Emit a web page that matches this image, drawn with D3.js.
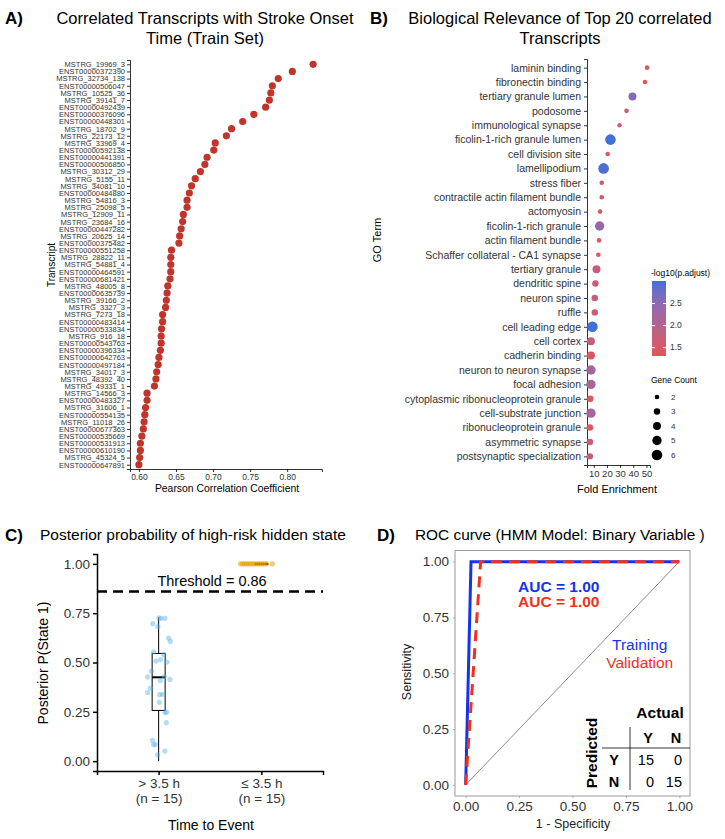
<!DOCTYPE html>
<html>
<head>
<meta charset="utf-8">
<script src="https://cdn.jsdelivr.net/npm/d3@7"></script>
<style>
body { margin: 0; background: #fff; }
svg text { font-family: "Liberation Sans", Arial, Helvetica, sans-serif; }
</style>
</head>
<body>
<div id="chart"></div>
<script>
/* Panel A: transcripts ordered top to bottom with their Pearson r */
var transcripts = [
    "MSTRG_19969_3", "ENST00000372390", "MSTRG_32734_138", "ENST00000506047", "MSTRG_10525_36",
    "MSTRG_39141_7", "ENST00000492439", "ENST00000376096", "ENST00000448301", "MSTRG_18702_9",
    "MSTRG_22173_12", "MSTRG_33969_4", "ENST00000592138", "ENST00000441391", "ENST00000506850",
    "MSTRG_30312_29", "MSTRG_5155_11", "MSTRG_34081_10", "ENST00000484880", "MSTRG_54816_3",
    "MSTRG_25098_5", "MSTRG_12909_11", "MSTRG_23684_16", "ENST00000447282", "MSTRG_20625_14",
    "ENST00000375482", "ENST00000551258", "MSTRG_28822_11", "MSTRG_54881_4", "ENST00000464591",
    "ENST00000681421", "MSTRG_48005_8", "ENST00000635739", "MSTRG_39166_2", "MSTRG_3327_3",
    "MSTRG_7273_18", "ENST00000483414", "ENST00000533834", "MSTRG_916_18", "ENST00000543763",
    "ENST00000396334", "ENST00000642763", "ENST00000497184", "MSTRG_34017_3", "MSTRG_48392_40",
    "MSTRG_49331_1", "MSTRG_14566_3", "ENST00000483327", "MSTRG_31606_1", "ENST00000554135",
    "MSTRG_11018_26", "ENST00000677363", "ENST00000535669", "ENST00000531913", "ENST00000610190",
    "MSTRG_45324_5", "ENST00000647891"
];
var pearsonR = [
    0.835, 0.807, 0.788, 0.780, 0.778, 0.776, 0.771, 0.755, 0.740, 0.725,
    0.718, 0.703, 0.701, 0.692, 0.689, 0.683, 0.676, 0.671, 0.668, 0.665,
    0.665, 0.660, 0.659, 0.657, 0.655, 0.654, 0.644, 0.643, 0.643, 0.643,
    0.642, 0.639, 0.638, 0.637, 0.636, 0.632, 0.632, 0.6305, 0.630, 0.630,
    0.629, 0.627, 0.626, 0.624, 0.623, 0.621, 0.611, 0.611, 0.609, 0.608,
    0.607, 0.606, 0.604, 0.602, 0.602, 0.601, 0.600
];
var pearsonTicks = [0.60, 0.65, 0.70, 0.75, 0.80];

/* Panel B: GO terms */
var goTerms = [
    "laminin binding", "fibronectin binding", "tertiary granule lumen", "podosome",
    "immunological synapse", "ficolin-1-rich granule lumen", "cell division site", "lamellipodium",
    "stress fiber", "contractile actin filament bundle", "actomyosin", "ficolin-1-rich granule",
    "actin filament bundle", "Schaffer collateral - CA1 synapse", "tertiary granule", "dendritic spine",
    "neuron spine", "ruffle", "cell leading edge", "cell cortex", "cadherin binding",
    "neuron to neuron synapse", "focal adhesion", "cytoplasmic ribonucleoprotein granule",
    "cell-substrate junction", "ribonucleoprotein granule", "asymmetric synapse",
    "postsynaptic specialization"
];
var foldEnrichment = [
    50.5, 48.9, 39.4, 34.9, 29.6, 22.7, 20.6, 17.5, 16.1, 16.1, 14.8, 14.5, 14.0, 13.5,
    12.1, 11.3, 10.8, 10.8, 9.0, 7.9, 7.9, 7.9, 7.9, 7.4, 7.9, 7.1, 7.1, 7.1
];
var geneCount = [
    2, 2, 4, 2, 2, 6, 2, 6, 2, 2, 2, 5, 2, 2,
    4, 3, 3, 3, 6, 4, 4, 5, 5, 3, 5, 3, 3, 3
];
var negLogPadj = [
    1.40, 1.40, 2.60, 1.70, 1.60, 3.00, 1.50, 2.95, 1.45, 1.45, 1.45, 2.40, 1.40, 1.40,
    1.75, 1.70, 1.70, 1.70, 3.00, 1.75, 1.40, 2.20, 2.20, 1.40, 2.20, 1.40, 1.75, 1.75
];
var foldTicks = [10, 20, 30, 40, 50];
var padjTicks = [1.5, 2.0, 2.5];
var countTicks = [2, 3, 4, 5, 6];

/* Panel C: posterior probability of state 1 */
var groupLabels = ["> 3.5 h", "\u2264 3.5 h"];
var groupN = [15, 15];
var posteriorLow = [
    0.697, 0.726, 0.724, 0.724, 0.682, 0.624, 0.607, 0.554, 0.541, 0.507,
    0.515, 0.502, 0.456, 0.427, 0.429, 0.414, 0.409, 0.370, 0.348, 0.337,
    0.339, 0.298, 0.246, 0.248, 0.195, 0.105, 0.083, 0.085, 0.051, 0.032
];
var jitterLow = [
    -0.058, 0.003, 0.022, 0.061, -0.007, 0.097, 0.114, -0.049, 0.049, -0.026,
    0.019, 0.081, -0.071, -0.107, 0.055, 0.110, 0.017, -0.081, -0.107, 0.010,
    0.039, 0.007, 0.061, 0.078, 0.075, -0.061, -0.049, -0.032, 0.061, -0.010
];
var posteriorHigh = [1, 1, 1, 1, 1, 1, 1, 1, 1, 1, 1, 1, 1, 1, 1];
var jitterHigh = [
    -0.204, -0.184, -0.165, -0.146, -0.126, -0.107, -0.087, -0.068, -0.049, -0.029,
    -0.010, 0.010, 0.029, 0.049, 0.107
];
// box stats: [lower whisker, q1, median, q3, upper whisker]
var boxLow = [0.0, 0.257, 0.425, 0.546, 0.73];
var boxHigh = [1, 1, 1, 1, 1];
var threshold = 0.86;
var probTicks = [0, 0.25, 0.5, 0.75, 1];

/* Panel D: ROC curves */
var rocTrainFpr = [0, 0.025, 1];
var rocTrainTpr = [0, 1, 1];
var rocValFpr = [0, 0.07, 1];
var rocValTpr = [0, 1, 1];
var aucTrain = 1.00;
var aucVal = 1.00;
var confLabels = ["Y", "N"];
var confusion = [[15, 0], [0, 15]];
var rocTicks = [0, 0.25, 0.5, 0.75, 1];

var config = {
    font: '"Liberation Sans", Arial, Helvetica, sans-serif',
    axisText: '#333333',
    dotRed: '#c0352b',
    goLow: '#e2545a',
    goHigh: '#4070d8',
    skyBlue: '#56B4E9',
    orange: '#E69F00',
    trainBlue: '#1432f0',
    valRed: '#f2301c',
    svg: { width: 725, height: 839 }
};

var svg = d3.select('#chart').append('svg')
    .attr('width', config.svg.width)
    .attr('height', config.svg.height);

function styleAxis(g, size, color) {
    g.selectAll('.domain').attr('stroke', '#000').attr('stroke-width', 0.8);
    g.selectAll('.tick line').attr('stroke', '#000').attr('stroke-width', 0.8);
    g.selectAll('.tick text')
        .attr('font-size', size)
        .attr('fill', color || config.axisText)
        .attr('font-family', config.font);
}

function panelLabel(x, y, letter) {
    svg.append('text')
        .attr('x', x).attr('y', y)
        .attr('font-size', 17).attr('font-weight', 'bold')
        .text(letter + ')');
}

// ---------------- Panel A ----------------
function drawA() {
    var xA = d3.scaleLinear().domain([0.588, 0.847]).range([130, 322]);
    var yA = d3.scalePoint().domain(transcripts).range([60, 469]).padding(0.6);

    panelLabel(5, 24, 'A');
    svg.append('text').attr('x', 205).attr('y', 24).attr('text-anchor', 'middle')
        .attr('font-size', 16.5).text('Correlated Transcripts with Stroke Onset');
    svg.append('text').attr('x', 205).attr('y', 44).attr('text-anchor', 'middle')
        .attr('font-size', 16.5).text('Time (Train Set)');

    var gx = svg.append('g').attr('transform', 'translate(0,469)')
        .call(d3.axisBottom(xA).tickValues(pearsonTicks).tickFormat(d3.format('.2f')).tickSize(3).tickPadding(2));
    styleAxis(gx, 8.5);
    var gy = svg.append('g').attr('transform', 'translate(130,0)')
        .call(d3.axisLeft(yA).tickSize(3).tickPadding(2));
    styleAxis(gy, 7.5);

    svg.append('text').attr('x', 227).attr('y', 492).attr('text-anchor', 'middle')
        .attr('font-size', 10.4).text('Pearson Correlation Coefficient');
    svg.append('text').attr('transform', 'translate(55,265) rotate(-90)')
        .attr('text-anchor', 'middle').attr('font-size', 10).text('Transcript');

    svg.append('g').selectAll('circle')
        .data(transcripts)
        .enter().append('circle')
        .attr('cx', function (d, i) { return xA(pearsonR[i]); })
        .attr('cy', function (d) { return yA(d); })
        .attr('r', 3.6)
        .attr('fill', config.dotRed);
}

// ---------------- Panel B ----------------
function drawB() {
    var xB = d3.scaleLinear().domain([4.9, 52.7]).range([587, 650]);
    var yB = d3.scalePoint().domain(goTerms).range([59, 465]).padding(0.6);
    var color = d3.scaleLinear().domain([1.3, 3.0]).range([config.goLow, config.goHigh])
        .interpolate(d3.interpolateLab);
    var size = d3.scaleSqrt().domain([2, 6]).range([2.3, 5.3]);

    panelLabel(370, 24, 'B');
    svg.append('text').attr('x', 560).attr('y', 24).attr('text-anchor', 'middle')
        .attr('font-size', 16.5).text('Biological Relevance of Top 20 correlated');
    svg.append('text').attr('x', 560).attr('y', 44).attr('text-anchor', 'middle')
        .attr('font-size', 16.5).text('Transcripts');

    var gx = svg.append('g').attr('transform', 'translate(0,465)')
        .call(d3.axisBottom(xB).tickValues(foldTicks).tickSize(3).tickPadding(2));
    styleAxis(gx, 9.5);
    var gy = svg.append('g').attr('transform', 'translate(587,0)')
        .call(d3.axisLeft(yB).tickSize(3).tickPadding(3));
    styleAxis(gy, 10.5);

    svg.append('text').attr('x', 617).attr('y', 493).attr('text-anchor', 'middle')
        .attr('font-size', 11).text('Fold Enrichment');
    svg.append('text').attr('transform', 'translate(381,240) rotate(-90)')
        .attr('text-anchor', 'middle').attr('font-size', 11).text('GO Term');

    svg.append('g').selectAll('circle')
        .data(goTerms)
        .enter().append('circle')
        .attr('cx', function (d, i) { return xB(foldEnrichment[i]); })
        .attr('cy', function (d) { return yB(d); })
        .attr('r', function (d, i) { return size(geneCount[i]); })
        .attr('fill', function (d, i) { return color(negLogPadj[i]); });

    // colour bar legend
    var barY = d3.scaleLinear().domain([1.3, 3.0]).range([356, 281]);
    var defs = svg.append('defs');
    var grad = defs.append('linearGradient').attr('id', 'padjGrad')
        .attr('x1', 0).attr('y1', 1).attr('x2', 0).attr('y2', 0);
    d3.range(0, 1.01, 0.1).forEach(function (t) {
        grad.append('stop').attr('offset', t)
            .attr('stop-color', color(1.3 + t * 1.7));
    });
    svg.append('text').attr('x', 651).attr('y', 276).attr('font-size', 8.5).text('-log10(p.adjust)');
    svg.append('rect').attr('x', 652).attr('y', 281).attr('width', 14).attr('height', 75)
        .attr('fill', 'url(#padjGrad)');
    var gl = svg.append('g').attr('transform', 'translate(666,0)')
        .call(d3.axisRight(barY).tickValues(padjTicks).tickFormat(d3.format('.1f')).tickSize(0).tickPadding(4));
    gl.select('.domain').remove();
    gl.selectAll('.tick text').attr('font-size', 8.5).attr('fill', config.axisText);
    gl.selectAll('.tick').append('line').attr('x1', -14).attr('x2', -11).attr('stroke', '#fff');
    gl.selectAll('.tick').append('line').attr('x1', -3).attr('x2', 0).attr('stroke', '#fff');

    // size legend
    svg.append('text').attr('x', 651).attr('y', 383).attr('font-size', 8.5).text('Gene Count');
    var sizeY = d3.scalePoint().domain(countTicks).range([397, 455]);
    var sl = svg.append('g').selectAll('g').data(countTicks).enter().append('g')
        .attr('transform', function (d) { return 'translate(657,' + sizeY(d) + ')'; });
    sl.append('circle').attr('r', function (d) { return size(d); }).attr('fill', '#000');
    sl.append('text').attr('x', 14).attr('dy', '0.35em').attr('font-size', 8)
        .attr('fill', config.axisText).text(function (d) { return d; });
}

// ---------------- Panel C ----------------
function drawC() {
    var xC = d3.scalePoint().domain(groupLabels).range([97, 323]).padding(0.6);
    var yC = d3.scaleLinear().domain([-0.05, 1.05]).range([771, 554]);
    var step = xC.step();

    panelLabel(5, 541, 'C');
    svg.append('text').attr('x', 40).attr('y', 540).attr('font-size', 15.5)
        .text('Posterior probability of high-risk hidden state');

    var gx = svg.append('g').attr('transform', 'translate(0,771)')
        .call(d3.axisBottom(xC).tickSize(4).tickPadding(3));
    styleAxis(gx, 13.5);
    gx.selectAll('.domain, .tick line').attr('stroke-width', 1.5);
    gx.selectAll('.tick text').text(null)
        .each(function (d, i) {
            var t = d3.select(this);
            t.append('tspan').attr('x', 0).attr('dy', '0.71em').text(d);
            t.append('tspan').attr('x', 0).attr('dy', '1.15em').text('(n = ' + groupN[i] + ')');
        });
    var gy = svg.append('g').attr('transform', 'translate(97,0)')
        .call(d3.axisLeft(yC).tickValues(probTicks).tickFormat(d3.format('.2f')).tickSize(4).tickPadding(3));
    styleAxis(gy, 13.5);
    gy.selectAll('.domain, .tick line').attr('stroke-width', 1.5);

    svg.append('text').attr('x', 211).attr('y', 830).attr('text-anchor', 'middle')
        .attr('font-size', 14).text('Time to Event');
    svg.append('text').attr('transform', 'translate(48,663) rotate(-90)')
        .attr('text-anchor', 'middle').attr('font-size', 14).text('Posterior P(State 1)');

    // threshold
    svg.append('line')
        .attr('x1', 97).attr('x2', 323)
        .attr('y1', yC(threshold)).attr('y2', yC(threshold))
        .attr('stroke', '#000').attr('stroke-width', 2.5).attr('stroke-dasharray', '10,6');
    svg.append('text').attr('x', 212).attr('y', yC(threshold) - 5)
        .attr('text-anchor', 'middle').attr('font-size', 14.5).text('Threshold = ' + threshold.toFixed(2));

    // boxes
    [boxLow, boxHigh].forEach(function (b, gi) {
        var cx = xC(groupLabels[gi]);
        var g = svg.append('g');
        g.append('line').attr('x1', cx).attr('x2', cx).attr('y1', yC(b[0])).attr('y2', yC(b[4]))
            .attr('stroke', '#000').attr('stroke-width', 1);
        g.append('rect').attr('x', cx - 6.5).attr('width', 13)
            .attr('y', yC(b[3])).attr('height', Math.max(0.5, yC(b[1]) - yC(b[3])))
            .attr('fill', '#fff').attr('stroke', '#000').attr('stroke-width', 1);
        g.append('line').attr('x1', cx - 6.5).attr('x2', cx + 6.5).attr('y1', yC(b[2])).attr('y2', yC(b[2]))
            .attr('stroke', '#000').attr('stroke-width', 2);
    });

    // jittered points
    svg.append('g').selectAll('circle').data(posteriorLow).enter().append('circle')
        .attr('cx', function (d, i) { return xC(groupLabels[0]) + jitterLow[i] * step; })
        .attr('cy', function (d) { return yC(d); })
        .attr('r', 2.6).attr('fill', config.skyBlue).attr('fill-opacity', 0.45);
    svg.append('g').selectAll('circle').data(posteriorHigh).enter().append('circle')
        .attr('cx', function (d, i) { return xC(groupLabels[1]) + jitterHigh[i] * step; })
        .attr('cy', function (d) { return yC(d); })
        .attr('r', 2.6).attr('fill', config.orange).attr('fill-opacity', 0.55);
}

// ---------------- Panel D ----------------
function drawD() {
    var xD = d3.scaleLinear().domain([-0.05, 1.05]).range([455, 690]);
    var yD = d3.scaleLinear().domain([-0.05, 1.05]).range([796, 550.5]);

    panelLabel(377, 541, 'D');
    svg.append('text').attr('x', 415).attr('y', 540).attr('font-size', 15.4)
        .text('ROC curve (HMM Model: Binary Variable )');

    svg.append('rect').attr('x', 455).attr('y', 550.5).attr('width', 235).attr('height', 245.5)
        .attr('fill', 'none').attr('stroke', '#9a9a9a').attr('stroke-width', 1);

    var gx = svg.append('g').attr('transform', 'translate(0,796)')
        .call(d3.axisBottom(xD).tickValues(rocTicks).tickFormat(d3.format('.2f')).tickSize(2).tickPadding(3));
    styleAxis(gx, 13.5);
    gx.select('.domain').remove();
    gx.selectAll('.tick line').attr('stroke', '#9a9a9a');
    var gy = svg.append('g').attr('transform', 'translate(455,0)')
        .call(d3.axisLeft(yD).tickValues(rocTicks).tickFormat(d3.format('.2f')).tickSize(2).tickPadding(4));
    styleAxis(gy, 13.5);
    gy.select('.domain').remove();
    gy.selectAll('.tick line').attr('stroke', '#9a9a9a');

    svg.append('text').attr('x', 573).attr('y', 828).attr('text-anchor', 'middle')
        .attr('font-size', 12.5).attr('fill', '#222').text('1 - Specificity');
    svg.append('text').attr('transform', 'translate(411,672) rotate(-90)')
        .attr('text-anchor', 'middle').attr('font-size', 12.5).attr('fill', '#222').text('Sensitivity');

    // chance diagonal
    svg.append('line').attr('x1', xD(0)).attr('y1', yD(0)).attr('x2', xD(1)).attr('y2', yD(1))
        .attr('stroke', '#8c8c8c').attr('stroke-width', 1);

    var line = d3.line().x(function (d) { return xD(d[0]); }).y(function (d) { return yD(d[1]); });
    svg.append('path').datum(d3.zip(rocTrainFpr, rocTrainTpr)).attr('d', line)
        .attr('fill', 'none').attr('stroke', config.trainBlue).attr('stroke-width', 3);
    svg.append('path').datum(d3.zip(rocValFpr, rocValTpr)).attr('d', line)
        .attr('fill', 'none').attr('stroke', config.valRed).attr('stroke-width', 3)
        .attr('stroke-dasharray', '11,7');

    svg.append('text').attr('x', xD(0.245)).attr('y', yD(0.887)).attr('dy', '0.35em')
        .attr('font-size', 15.5).attr('font-weight', 'bold').attr('fill', config.trainBlue)
        .text('AUC = ' + aucTrain.toFixed(2));
    svg.append('text').attr('x', xD(0.245)).attr('y', yD(0.82)).attr('dy', '0.35em')
        .attr('font-size', 15.5).attr('font-weight', 'bold').attr('fill', config.valRed)
        .text('AUC = ' + aucVal.toFixed(2));
    svg.append('text').attr('x', xD(0.815)).attr('y', yD(0.63)).attr('dy', '0.35em')
        .attr('text-anchor', 'middle').attr('font-size', 15.5).attr('fill', config.trainBlue).text('Training');
    svg.append('text').attr('x', xD(0.815)).attr('y', yD(0.55)).attr('dy', '0.35em')
        .attr('text-anchor', 'middle').attr('font-size', 15.5).attr('fill', config.valRed).text('Validation');

    // confusion matrix
    var tx = d3.scalePoint().domain(confLabels).range([648, 676]);
    var ty = d3.scalePoint().domain(confLabels).range([760, 782]);
    var t = svg.append('g');
    t.append('text').attr('x', 660).attr('y', 713).attr('dy', '0.35em').attr('text-anchor', 'middle')
        .attr('font-size', 15.5).attr('font-weight', 'bold').text('Actual');
    t.append('text').attr('transform', 'translate(592,753) rotate(-90)').attr('dy', '0.35em')
        .attr('text-anchor', 'middle').attr('font-size', 15.5).attr('font-weight', 'bold').text('Predicted');
    t.selectAll('.colh').data(confLabels).enter().append('text')
        .attr('x', function (d) { return tx(d); }).attr('y', 738).attr('dy', '0.35em')
        .attr('text-anchor', 'middle').attr('font-size', 14.5).attr('font-weight', 'bold')
        .text(function (d) { return d; });
    t.selectAll('.rowh').data(confLabels).enter().append('text')
        .attr('x', 614).attr('y', function (d) { return ty(d); }).attr('dy', '0.35em')
        .attr('text-anchor', 'middle').attr('font-size', 14.5).attr('font-weight', 'bold')
        .text(function (d) { return d; });
    confusion.forEach(function (row, r) {
        row.forEach(function (v, c) {
            t.append('text')
                .attr('x', tx(confLabels[c]) + 6).attr('y', ty(confLabels[r])).attr('dy', '0.35em')
                .attr('text-anchor', 'end').attr('font-size', 14.5).text(v);
        });
    });
    t.append('line').attr('x1', 630).attr('x2', 630).attr('y1', 727).attr('y2', 790)
        .attr('stroke', '#000').attr('stroke-width', 0.8);
    t.append('line').attr('x1', 602).attr('x2', 690).attr('y1', 748).attr('y2', 748)
        .attr('stroke', '#000').attr('stroke-width', 0.8);
}

drawA();
drawB();
drawC();
drawD();
</script>
</body>
</html>
